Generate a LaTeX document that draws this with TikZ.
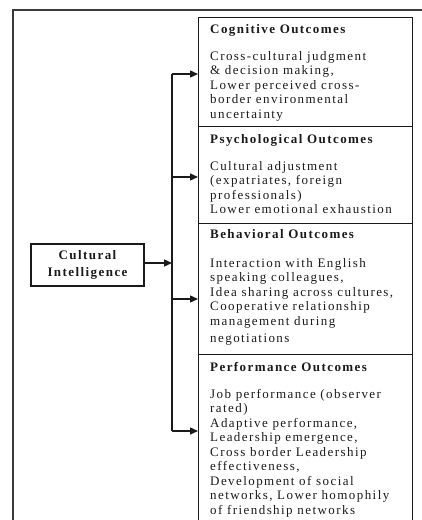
\documentclass[tikz,border=0pt]{standalone}
\usepackage{fontspec}
\setmainfont{Liberation Serif}[LetterSpace=11]
\usetikzlibrary{arrows.meta}
\definecolor{ink}{HTML}{1A1A1A}
\definecolor{framegray}{HTML}{3A3A3A}
\newcommand{\firstln}{\rule{0pt}{10pt}}
\tikzset{
  obox/.style={draw=ink, line width=1.3pt, anchor=north west, inner sep=0pt, minimum width=214pt},
  cibox/.style={draw=ink, line width=1.3pt, inner sep=0pt, minimum width=113pt, minimum height=42pt, align=center,
    font=\fontsize{13}{17}\selectfont\bfseries, text=ink},
  head/.style={anchor=base west, inner sep=0pt, font=\fontsize{13}{14.5}\selectfont\bfseries, text=ink},
  body/.style={anchor=north west, inner sep=0pt, align=left, font=\fontsize{13}{14.5}\selectfont, text=ink},
  arr/.style={draw=ink, line width=1.3pt, -{Triangle[length=8pt,width=7pt]}},
  spineline/.style={draw=ink, line width=1.3pt},
  outerframe/.style={draw=framegray, line width=2pt},
}
\begin{document}
\begin{tikzpicture}[x=1pt,y=-1pt]
\useasboundingbox (0,0) rectangle (422,520);
\clip (0,0) rectangle (422,520);
% outer frame (continues beyond the picture)
\coordinate (fA) at (13,540);
\coordinate (fB) at (13,10);
\coordinate (fC) at (440,10);
\draw[outerframe] (fA) -- (fB) -- (fC);

% outcome boxes
\node[obox, minimum height=109pt] (cog) at (198,17) {};
\node[obox, minimum height=97pt] (psy) at (198,126) {};
\node[obox, minimum height=131pt] (beh) at (198,223) {};
\node[obox, minimum height=190pt] (per) at (198,354) {};

% texts (body nodes: top of first line = baseline - 10pt)
\node[head] (cogh) at (210,33) {Cognitive Outcomes};
\node[body] (cogb) at (210,50) {\firstln Cross-cultural judgment\\ \& decision making,\\ Lower perceived cross-\\ border environmental\\ uncertainty};

\node[head] (psyh) at (210,143) {Psychological Outcomes};
\node[body] (psyb) at (210,160) {\firstln Cultural adjustment\\ (expatriates, foreign\\ professionals)\\ Lower emotional exhaustion};

\node[head] (behh) at (210,238) {Behavioral Outcomes};
\node[body] (behb) at (210,257) {\firstln Interaction with English\\ speaking colleagues,\\ Idea sharing across cultures,\\ Cooperative relationship\\ management during\\[3pt] negotiations};

\node[head] (perh) at (210,371) {Performance Outcomes};
\node[body] (perb) at (210,388) {\firstln Job performance (observer\\ rated)\\ Adaptive performance,\\ Leadership emergence,\\ Cross border Leadership\\ effectiveness,\\ Development of social\\ networks, Lower homophily\\ of friendship networks};

% cultural intelligence
\node[cibox] (ci) at (87.5,265) {Cultural\\ Intelligence};

% spine and arrows
\coordinate (s1) at (172,74);
\coordinate (s2) at (172,177);
\coordinate (s3) at (172,299);
\coordinate (s4) at (172,431);
\coordinate (sc) at (172,263);
\draw[spineline] (s1) -- (s4);
\draw[arr] (ci.east |- sc) -- (sc);
\draw[arr] (s1) -- (s1 -| cog.west);
\draw[arr] (s2) -- (s2 -| psy.west);
\draw[arr] (s3) -- (s3 -| beh.west);
\draw[arr] (s4) -- (s4 -| per.west);
\end{tikzpicture}
\end{document}
